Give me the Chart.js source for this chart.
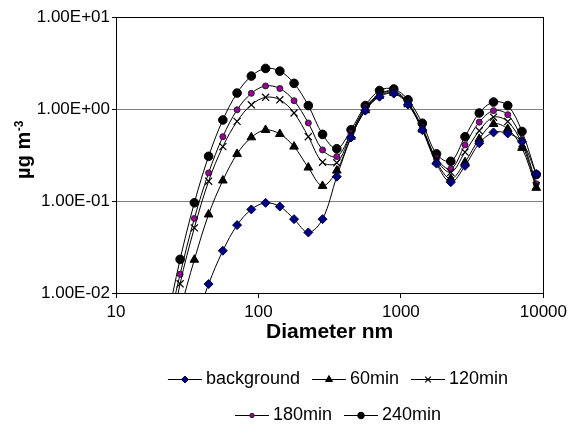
<!DOCTYPE html>
<html><head><meta charset="utf-8">
<script src="https://cdn.jsdelivr.net/npm/chart.js@4/dist/chart.umd.min.js"></script>
<style>html,body{margin:0;padding:0;background:#fff}#wrap{width:571px;height:428px}</style>
</head><body><div id="wrap"><canvas id="c" width="571" height="428"></canvas></div>
<script>
// Diameter (nm) of each size bin
const diameters = [22.39, 28.18, 35.48, 44.67, 56.23, 70.79, 89.13, 112.2, 141.3, 177.8, 223.9, 281.8, 354.8, 446.7, 562.3, 707.9, 891.3, 1122, 1413, 1778, 2239, 2818, 3548, 4467, 5623, 7079, 8913];
// Series values (µg m-3)
const background = [null, null, 0.0045, 0.0125, 0.0288, 0.0547, 0.081, 0.0955, 0.087, 0.0635, 0.0455, 0.0635, 0.184, 0.49, 0.96, 1.36, 1.47, 1.12, 0.59, 0.255, 0.16, 0.241, 0.424, 0.557, 0.543, 0.44, 0.197];
const min60 = [null, 0.0065, 0.023, 0.0714, 0.167, 0.325, 0.492, 0.592, 0.535, 0.39, 0.231, 0.146, 0.214, 0.50, 0.97, 1.39, 1.50, 1.14, 0.60, 0.268, 0.174, 0.264, 0.473, 0.687, 0.607, 0.378, 0.139];
const min120 = [0.0019, 0.0126, 0.051, 0.164, 0.39, 0.734, 1.11, 1.34, 1.26, 0.905, 0.50, 0.264, 0.26, 0.53, 1.0, 1.43, 1.54, 1.14, 0.61, 0.28, 0.205, 0.34, 0.58, 0.815, 0.73, 0.42, 0.147];
const min180 = [0.0033, 0.0160, 0.0646, 0.202, 0.50, 0.98, 1.48, 1.78, 1.67, 1.23, 0.705, 0.359, 0.304, 0.544, 1.04, 1.45, 1.58, 1.18, 0.63, 0.29, 0.223, 0.407, 0.72, 0.96, 0.867, 0.465, 0.154];
const min240 = [0.0043, 0.0232, 0.0956, 0.306, 0.760, 1.49, 2.28, 2.76, 2.58, 1.90, 1.09, 0.53, 0.37, 0.596, 1.09, 1.59, 1.65, 1.26, 0.70, 0.325, 0.27, 0.50, 0.905, 1.19, 1.09, 0.57, 0.194];
const seriesNames = ['background', '60min', '120min', '180min', '240min'];
const xTicks = [10, 100, 1000, 10000];
const xTickLabels = ['10', '100', '1000', '10000'];
const yTicks = [0.01, 0.1, 1, 10];
const yTickLabels = ['1.00E-02', '1.00E-01', '1.00E+00', '1.00E+01'];

const FONT = '"Liberation Sans", Arial, sans-serif';
const toPts = arr => diameters.map((d, i) => ({x: d, y: arr[i]})).filter(p => p.y !== null);

const styles = [
  {pointStyle: 'rectRot', pointRadius: 4.5, pointBackgroundColor: '#000080', pointBorderColor: '#000040', pointBorderWidth: 1},
  {pointStyle: 'triangle', pointRadius: 5, pointBackgroundColor: '#000', pointBorderColor: '#000', pointBorderWidth: 1},
  {pointStyle: 'crossRot', pointRadius: 5, pointBackgroundColor: '#000', pointBorderColor: '#000', pointBorderWidth: 1.2},
  {pointStyle: 'circle', pointRadius: 3, pointBackgroundColor: '#990099', pointBorderColor: '#222', pointBorderWidth: 1},
  {pointStyle: 'circle', pointRadius: 4.3, pointBackgroundColor: '#000', pointBorderColor: '#000', pointBorderWidth: 1}
];
const legendRadii = [3.5, 4, 4, 2.2, 3.3];
const seriesData = [background, min60, min120, min180, min240];

const datasets = seriesData.map((arr, i) => Object.assign({
  label: seriesNames[i],
  data: toPts(arr),
  borderColor: '#000',
  borderWidth: 1,
  tension: 0.35,
  fill: false
}, styles[i]));

const legendPlugin = {
  id: 'customLegend',
  afterDraw(chart) {
    const ctx = chart.ctx;
    const rows = [[0, 1, 2], [3, 4]];
    const rowY = [379, 415];
    ctx.save();
    ctx.font = '18px ' + FONT;
    ctx.textBaseline = 'middle';
    const lineLen = 34, gapText = 4, gapItem = 12;
    rows.forEach((row, ri) => {
      const widths = row.map(i => lineLen + gapText + ctx.measureText(seriesNames[i]).width);
      const total = widths.reduce((a, b) => a + b, 0) + gapItem * (row.length - 1);
      let x = 338 - total / 2;
      const y = rowY[ri];
      row.forEach((i, k) => {
        const ds = chart.data.datasets[i];
        ctx.strokeStyle = '#000'; ctx.lineWidth = 1;
        ctx.beginPath(); ctx.moveTo(x, y + 0.5); ctx.lineTo(x + lineLen, y + 0.5); ctx.stroke();
        ctx.fillStyle = ds.pointBackgroundColor; ctx.strokeStyle = ds.pointBorderColor; ctx.lineWidth = ds.pointBorderWidth;
        Chart.helpers.drawPoint(ctx, {pointStyle: ds.pointStyle, radius: legendRadii[i], borderWidth: ds.pointBorderWidth, rotation: 0}, x + lineLen / 2, y + 0.5);
        ctx.fillStyle = '#000';
        ctx.textAlign = 'left';
        ctx.fillText(seriesNames[i], x + lineLen + gapText, y);
        x += widths[k] + gapItem;
      });
    });
    ctx.restore();
  }
};

const yTitlePlugin = {
  id: 'yTitle',
  afterDraw(chart) {
    const ctx = chart.ctx;
    ctx.save();
    ctx.translate(30, 150);
    ctx.rotate(-Math.PI / 2);
    ctx.fillStyle = '#000';
    ctx.textBaseline = 'alphabetic';
    ctx.textAlign = 'left';
    ctx.font = 'bold 20px ' + FONT;
    const main = 'µg m';
    const w1 = ctx.measureText(main).width;
    ctx.font = 'bold 12px ' + FONT;
    const sup = '-3';
    const w2 = ctx.measureText(sup).width;
    const start = -(w1 + w2) / 2;
    ctx.font = 'bold 20px ' + FONT;
    ctx.fillText(main, start, 0);
    ctx.font = 'bold 12px ' + FONT;
    ctx.fillText(sup, start + w1 + 0.5, -7);
    ctx.restore();
  }
};

new Chart(document.getElementById('c'), {
  type: 'line',
  data: {datasets},
  plugins: [legendPlugin, yTitlePlugin],
  options: {
    responsive: false,
    animation: false,
    devicePixelRatio: 1,
    layout: {padding: {left: 0, right: 26, top: 17, bottom: 78}},
    elements: {line: {capBezierPoints: false}},
    plugins: {legend: {display: false}, tooltip: {enabled: false}},
    scales: {
      x: {
        type: 'logarithmic',
        min: 10, max: 10000,
        afterBuildTicks: s => { s.ticks = xTicks.map(v => ({value: v})); },
        afterFit: s => { s.height = 57; },
        ticks: {
          autoSkip: false, maxRotation: 0, color: '#000', padding: 4,
          font: {family: FONT, size: 17},
          callback: v => xTickLabels[xTicks.indexOf(v)]
        },
        grid: {
          color: c => (c.tick && c.tick.value === 10000) ? '#000' : 'rgba(0,0,0,0)',
          tickColor: '#000', tickLength: 5, lineWidth: 1
        },
        border: {display: true, color: '#000', width: 1},
        title: {display: true, text: 'Diameter nm', color: '#000', font: {family: FONT, size: 21, weight: 'bold'}, padding: {top: 0, bottom: 5}}
      },
      y: {
        type: 'logarithmic',
        min: 0.01, max: 10,
        afterBuildTicks: s => { s.ticks = yTicks.map(v => ({value: v})); },
        afterFit: s => { s.width = 116; },
        ticks: {
          autoSkip: false, color: '#000', padding: 2,
          font: {family: FONT, size: 17},
          callback: v => yTickLabels[yTicks.indexOf(v)]
        },
        grid: {
          color: c => {
            const v = c.tick ? c.tick.value : null;
            if (v === 10) return '#000';
            if (v === 0.01) return 'rgba(0,0,0,0)';
            return '#808080';
          },
          tickColor: '#000', tickLength: 4, lineWidth: 1
        },
        border: {display: true, color: '#000', width: 1}
      }
    }
  }
});
</script>
</body></html>
